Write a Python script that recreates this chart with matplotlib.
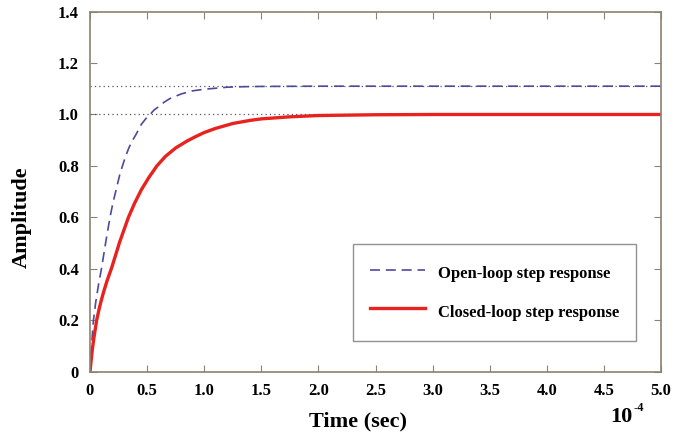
import numpy as np
import matplotlib.pyplot as plt

plt.rcParams['font.family'] = ['Liberation Serif', 'DejaVu Serif']
plt.rcParams['font.weight'] = 'bold'

# time in units of 1e-4 s
t_open = [0, 0.01, 0.02, 0.03, 0.05, 0.075, 0.1, 0.14, 0.175, 0.2, 0.23,
          0.26, 0.284, 0.31, 0.34, 0.37, 0.4, 0.45, 0.5, 0.526, 0.56, 0.6,
          0.65, 0.7, 0.8, 0.9, 1.0, 1.1, 1.2, 1.35, 1.5, 2.0, 3.0, 5.0]
y_open = [0, 0.075, 0.14, 0.2, 0.27, 0.34, 0.4, 0.51, 0.6, 0.655, 0.71,
          0.765, 0.8, 0.835, 0.87, 0.898, 0.92, 0.962, 0.99, 1.0, 1.017, 1.03,
          1.048, 1.062, 1.08, 1.092, 1.098, 1.102, 1.106, 1.108, 1.109, 1.11, 1.11, 1.11]

t_closed = [0, 0.01, 0.02, 0.035, 0.058, 0.08, 0.1, 0.12, 0.15, 0.19, 0.225,
            0.26, 0.3, 0.336, 0.39, 0.45, 0.515, 0.585, 0.66, 0.75, 0.85,
            0.92, 1.0, 1.1, 1.25, 1.4, 1.5, 1.75, 2.0, 2.5, 3.0, 5.0]
y_closed = [0, 0.045, 0.085, 0.135, 0.2, 0.245, 0.28, 0.312, 0.355, 0.405, 0.455,
            0.505, 0.555, 0.6, 0.655, 0.708, 0.755, 0.8, 0.837, 0.87, 0.897,
            0.913, 0.93, 0.946, 0.965, 0.977, 0.983, 0.991, 0.996, 0.999, 1.0, 1.0]

final_open = 1.11
final_closed = 1.0

spine_col = '#8c8273'

fig = plt.figure(figsize=(6.88, 4.34), dpi=100)
ax = fig.add_axes([0.1308, 0.1429, 0.8300, 0.8306])

ax.axhline(final_open, color='#555566', ls=(0, (1, 2.5)), lw=0.9)
ax.axhline(final_closed, color='#555566', ls=(0, (1, 2.5)), lw=0.9)

ax.plot(t_open, y_open, color='#4b4b9b', ls=(0, (6, 3.5)), lw=1.2,
        label='Open-loop step response')
ax.plot(t_closed, y_closed, color='#e8231f', lw=2.4,
        label='Closed-loop step response')

ax.set_xlim(0, 5)
ax.set_ylim(0, 1.4)
xt = np.arange(0, 5.01, 0.5)
ax.set_xticks(xt)
ax.set_xticklabels(['0'] + ['%.1f' % v for v in xt[1:]])
yt = np.arange(0, 1.41, 0.2)
ax.set_yticks(yt)
ax.set_yticklabels(['0'] + ['%.1f' % v for v in yt[1:]])

ax.tick_params(direction='in', top=True, right=True, length=5,
               color=spine_col, labelsize=12, pad=8)
for s in ax.spines.values():
    s.set_color(spine_col)
    s.set_linewidth(1.2)

fig.text(358 / 688, 1 - 421 / 434, 'Time (sec)', fontsize=16,
         fontweight='bold', ha='center', va='center')
fig.text(22 / 688, 1 - 217 / 434, 'Amplitude', fontsize=16,
         fontweight='bold', ha='center', va='center', rotation=90)
fig.text(632 / 688, 12 / 434, '10', fontsize=16, fontweight='bold',
         ha='right', va='baseline')
fig.text(633 / 688, 23 / 434, '-4', fontsize=9, fontweight='bold',
         ha='left', va='baseline')

leg = ax.legend(loc='lower right', bbox_to_anchor=(0.956, 0.086),
                fontsize=12, frameon=True, fancybox=False, borderpad=1.0,
                labelspacing=0.85, handlelength=3.3, handleheight=1.9,
                handletextpad=0.8, borderaxespad=0)
leg.get_frame().set_edgecolor('#777777')
leg.get_frame().set_linewidth(1.0)

fig.savefig('out.png', dpi=100)
